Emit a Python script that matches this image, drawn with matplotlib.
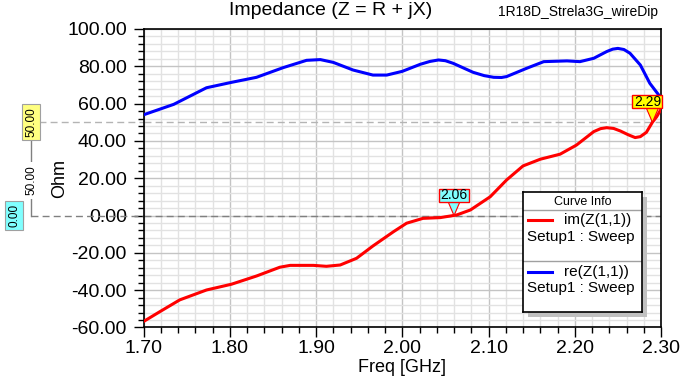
import numpy as np
import matplotlib
matplotlib.use("Agg")
from matplotlib import pyplot as plt
from matplotlib import transforms as mtransforms
from matplotlib.patches import Rectangle, Polygon
from matplotlib.ticker import MultipleLocator, FormatStrFormatter

plt.rcParams['font.family'] = ['Liberation Sans', 'DejaVu Sans']

# re(Z(1,1))
freq_re = [1.700, 1.735, 1.773, 1.802, 1.831, 1.862, 1.889, 1.905, 1.920, 1.943,
           1.966, 1.982, 2.000, 2.021, 2.032, 2.042, 2.050, 2.059, 2.082, 2.095,
           2.106, 2.115, 2.121, 2.144, 2.164, 2.191, 2.206, 2.222, 2.237, 2.244,
           2.250, 2.257, 2.264, 2.276, 2.287, 2.300]
re_z = [54.0, 59.6, 68.5, 71.4, 74.1, 79.3, 83.2, 83.6, 82.1, 78.0,
        75.3, 75.3, 77.3, 81.1, 82.6, 83.4, 83.0, 81.6, 76.8, 75.0,
        74.1, 74.0, 74.5, 78.9, 82.5, 82.9, 82.5, 84.3, 87.9, 89.2,
        89.6, 89.0, 87.0, 80.7, 70.9, 63.0]

# im(Z(1,1))
freq_im = [1.700, 1.719, 1.742, 1.773, 1.802, 1.831, 1.858, 1.870, 1.897, 1.912,
           1.928, 1.947, 1.966, 1.990, 2.005, 2.024, 2.044, 2.063, 2.079, 2.102,
           2.121, 2.140, 2.160, 2.183, 2.202, 2.222, 2.230, 2.237, 2.245, 2.253,
           2.262, 2.270, 2.276, 2.283, 2.290, 2.295, 2.300]
im_z = [-56.8, -51.5, -45.2, -39.9, -36.8, -32.4, -27.7, -26.7, -26.7, -27.2,
        -26.5, -22.9, -16.3, -8.6, -4.1, -1.5, -1.1, 0.3, 3.0, 10.1,
        19.1, 26.6, 30.2, 32.9, 37.8, 45.0, 46.6, 47.1, 46.7, 45.3,
        43.3, 41.8, 42.3, 44.6, 50.0, 53.0, 57.0]

# markers on im(Z)
marker_freqs = [2.06, 2.29]
marker_vals = [0.0, 50.0]
marker_labels = ['2.06', '2.29']
marker_colors = ['#80ffff', '#ffff00']
marker_shift = [0, -5]

# y markers at left
ymark_vals = [50.0, 0.0]
ymark_labels = ['50.00', '0.00']
delta_label = '50.00'

fig = plt.figure(figsize=(6.88, 3.78), dpi=100)
ax = fig.add_axes([0.2086, 0.1336, 0.7522, 0.7897])

ax.plot(freq_im, im_z, color='#ff0000', lw=2.2, zorder=4)
ax.plot(freq_re, re_z, color='#0000ff', lw=2.2, zorder=4)

ax.set_xlim(1.70, 2.30)
ax.set_ylim(-60, 100)
ax.xaxis.set_major_locator(MultipleLocator(0.1))
ax.xaxis.set_minor_locator(MultipleLocator(0.02))
ax.yaxis.set_major_locator(MultipleLocator(20))
ax.yaxis.set_minor_locator(MultipleLocator(4))
ax.xaxis.set_major_formatter(FormatStrFormatter('%.2f'))
ax.yaxis.set_major_formatter(FormatStrFormatter('%.2f'))
ax.grid(which='major', color='#c4c4c4', lw=1.0, zorder=0)
ax.grid(which='minor', color='#e2e2e2', lw=1.0, zorder=0)
ax.set_axisbelow(True)
ax.tick_params(which='major', direction='out', length=7, width=1, labelsize=14)
ax.tick_params(axis='y', which='major', pad=5)
ax.tick_params(axis='x', which='major', pad=2)
ax.tick_params(which='minor', direction='out', length=4, width=1)
for sp in ax.spines.values():
    sp.set_linewidth(1.2)
    sp.set_color('black')

ax.set_xlabel('Freq [GHz]', fontsize=13)
ax.set_ylabel('Ohm', fontsize=13)
ax.xaxis.set_label_coords(0.5, -0.105)
ax.yaxis.set_label_coords(-0.146, 0.5)

fig.text(0.48, 0.971, 'Impedance (Z = R + jX)', fontsize=14, ha='center', va='center')
fig.text(0.84, 0.968, '1R18D_Strela3G_wireDip', fontsize=10, ha='center', va='center')

# dashed reference lines
ax.axhline(ymark_vals[0], color='#b4b4b4', lw=1, ls=(0, (5, 3)), zorder=2)
ax.axhline(ymark_vals[1], color='#808080', lw=1, ls=(0, (5, 3)), zorder=2)

blend = mtransforms.blended_transform_factory(ax.transAxes, ax.transData)
x_yel, x_cyan = -0.2174, -0.250
ax.plot([-0.202, 0], [ymark_vals[0]] * 2, transform=blend, clip_on=False,
        color='#b4b4b4', lw=1, ls=(0, (5, 3)))
ax.plot([x_yel, 0], [ymark_vals[1]] * 2, transform=blend, clip_on=False,
        color='#808080', lw=1, ls=(0, (5, 3)))
ax.plot([x_yel, x_yel], [ymark_vals[1], ymark_vals[0] - 9], transform=blend,
        clip_on=False, color='#808080', lw=1)
ax.text(x_yel, 19, delta_label, transform=blend, rotation=90, fontsize=8.5,
        ha='center', va='center', clip_on=False,
        bbox=dict(boxstyle='square,pad=0.3', fc='white', ec='none'))
ax.text(x_yel, ymark_vals[0], ymark_labels[0], transform=blend, rotation=90,
        fontsize=8.5, ha='center', va='center', clip_on=False,
        bbox=dict(boxstyle='square,pad=0.25', fc='#ffff80', ec='#a0a0a0', lw=0.8))
ax.text(x_cyan, ymark_vals[1], ymark_labels[1], transform=blend, rotation=90,
        fontsize=8.5, ha='center', va='center', clip_on=False,
        bbox=dict(boxstyle='square,pad=0.25', fc='#80ffff', ec='#a0a0a0', lw=0.8))

# point markers
for f, v, lab, col, dx in zip(marker_freqs, marker_vals, marker_labels,
                               marker_colors, marker_shift):
    tr = mtransforms.Affine2D() + mtransforms.ScaledTranslation(f, v, ax.transData)
    tri = Polygon([[-6, 14], [6, 14], [0, 0]], closed=True, transform=tr,
                  fc=col, ec='#ff0000', lw=0.8, zorder=6, clip_on=False)
    box = Rectangle((dx - 15, 14), 30, 13, transform=tr, fc=col,
                    ec='#ff0000', lw=1, zorder=7, clip_on=False)
    ax.add_patch(tri)
    ax.add_patch(box)
    ax.text(dx, 20.5, lab, transform=tr, fontsize=10, ha='center', va='center',
            zorder=8, clip_on=False)

# Curve Info box
lx, ly, lw_, lh = 523 / 688, (378 - 312) / 378, 119 / 688, 120 / 378
shadow = Rectangle((lx + 5 / 688, ly - 5 / 378), lw_, lh, transform=fig.transFigure,
                   fc='#c0c0c0', ec='none', zorder=9)
fig.add_artist(shadow)
lax = fig.add_axes([lx, ly, lw_, lh], zorder=10)
lax.set_xlim(0, 119)
lax.set_ylim(120, 0)
lax.set_xticks([])
lax.set_yticks([])
for sp in lax.spines.values():
    sp.set_linewidth(1.2)
lax.text(59.5, 10, 'Curve Info', fontsize=9, ha='center', va='center')
lax.plot([0, 119], [18, 18], color='#a0a0a0', lw=1)
lax.plot([0, 119], [69, 69], color='#a0a0a0', lw=1)
lax.plot([5, 29], [28, 28], color='#ff0000', lw=2.2)
lax.text(41, 28, 'im(Z(1,1))', fontsize=11, ha='left', va='center')
lax.text(4, 45, 'Setup1 : Sweep', fontsize=11, ha='left', va='center')
lax.plot([5, 29], [80, 80], color='#0000ff', lw=2.2)
lax.text(41, 80, 're(Z(1,1))', fontsize=11, ha='left', va='center')
lax.text(4, 96, 'Setup1 : Sweep', fontsize=11, ha='left', va='center')

fig.savefig('out.png', dpi=100)
